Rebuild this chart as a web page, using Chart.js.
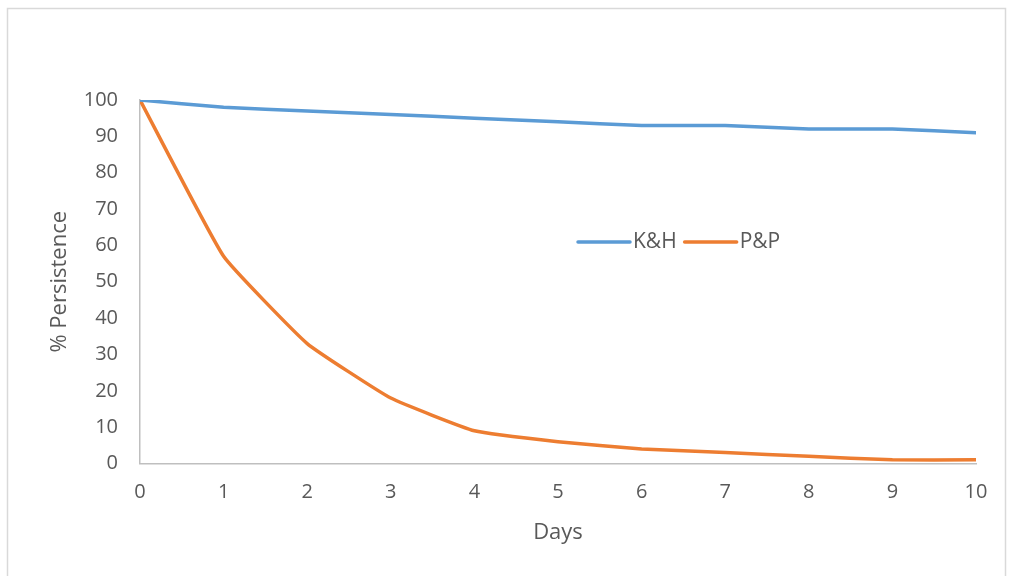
<!DOCTYPE html>
<html><head><meta charset="utf-8">
<script src="https://cdn.jsdelivr.net/npm/chart.js@4.4.1/dist/chart.umd.min.js"></script>
<style>html,body{margin:0;padding:0;background:#fff}#wrap{width:1010px;height:576px}</style>
</head><body><div id="wrap"><canvas id="c" width="1010" height="576"></canvas></div>
<script>
const days = [0,1,2,3,4,5,6,7,8,9,10];
const khValues = [100,98,97,96,95,94,93,93,92,92,91];
const ppValues = [100,57,33,18,9,6,4,3,2,1,1];
const seriesNames = ['K&H','P&P'];
const seriesColors = ['#5B9BD5','#ED7D31'];
const xTitle = 'Days';
const yTitle = '% Persistence';

const FONT = '"Open Sans", sans-serif';
const TXT = '#595959';

const frame = {
  id:'frame',
  beforeDraw(chart){
    const ctx = chart.ctx;
    ctx.save();
    ctx.fillStyle='#fff';ctx.fillRect(0,0,chart.width,chart.height);
    ctx.strokeStyle='#d9d9d9';ctx.lineWidth=1.5;
    ctx.strokeRect(7.5,8.5,998,600);
    ctx.restore();
  }
};
const legendPlugin = {
  id:'customLegend',
  afterDatasetsDraw(chart){
    const ctx=chart.ctx;
    ctx.save();
    ctx.font='21px '+FONT;
    ctx.textBaseline='middle';
    let x=578; const y=242;
    chart.data.datasets.forEach(ds=>{
      ctx.strokeStyle=ds.borderColor;ctx.lineWidth=3.5;ctx.lineCap='round';
      ctx.beginPath();ctx.moveTo(x,y);ctx.lineTo(x+52,y);ctx.stroke();
      ctx.fillStyle=TXT;ctx.textAlign='left';
      ctx.fillText(ds.label,x+55,y);
      x+=55+ctx.measureText(ds.label).width+8;
    });
    ctx.restore();
  }
};

const toPts = (vals)=>vals.map((v,i)=>({x:days[i],y:v}));

new Chart(document.getElementById('c'),{
  type:'line',
  data:{datasets:[
    {label:seriesNames[0],data:toPts(khValues),borderColor:seriesColors[0],backgroundColor:seriesColors[0],borderWidth:3.5,pointRadius:0,tension:0.12,borderCapStyle:'round'},
    {label:seriesNames[1],data:toPts(ppValues),borderColor:seriesColors[1],backgroundColor:seriesColors[1],borderWidth:3.5,pointRadius:0,tension:0.12,borderCapStyle:'round'}
  ]},
  options:{
    responsive:false,animation:false,devicePixelRatio:1,
    layout:{padding:{left:47,right:34,top:100,bottom:30}},
    plugins:{legend:{display:false},tooltip:{enabled:false}},
    scales:{
      x:{type:'linear',min:0,max:10,
        ticks:{stepSize:1,color:TXT,font:{family:FONT,size:20},padding:17},
        grid:{display:false,drawTicks:false},
        border:{color:'#bfbfbf',width:1.5},
        title:{display:true,text:xTitle,color:TXT,font:{family:FONT,size:22},padding:{top:0,bottom:0}},
        afterFit(s){s.height=82.5;}
      },
      y:{min:0,max:100,
        ticks:{stepSize:10,color:TXT,font:{family:FONT,size:20},padding:22},
        grid:{display:false,drawTicks:false},
        border:{color:'#bfbfbf',width:1.5},
        title:{display:true,text:yTitle,color:TXT,font:{family:FONT,size:22},padding:{top:0,bottom:0}},
        afterFit(s){s.width=93;}
      }
    }
  },
  plugins:[frame,legendPlugin]
});
</script></body></html>
